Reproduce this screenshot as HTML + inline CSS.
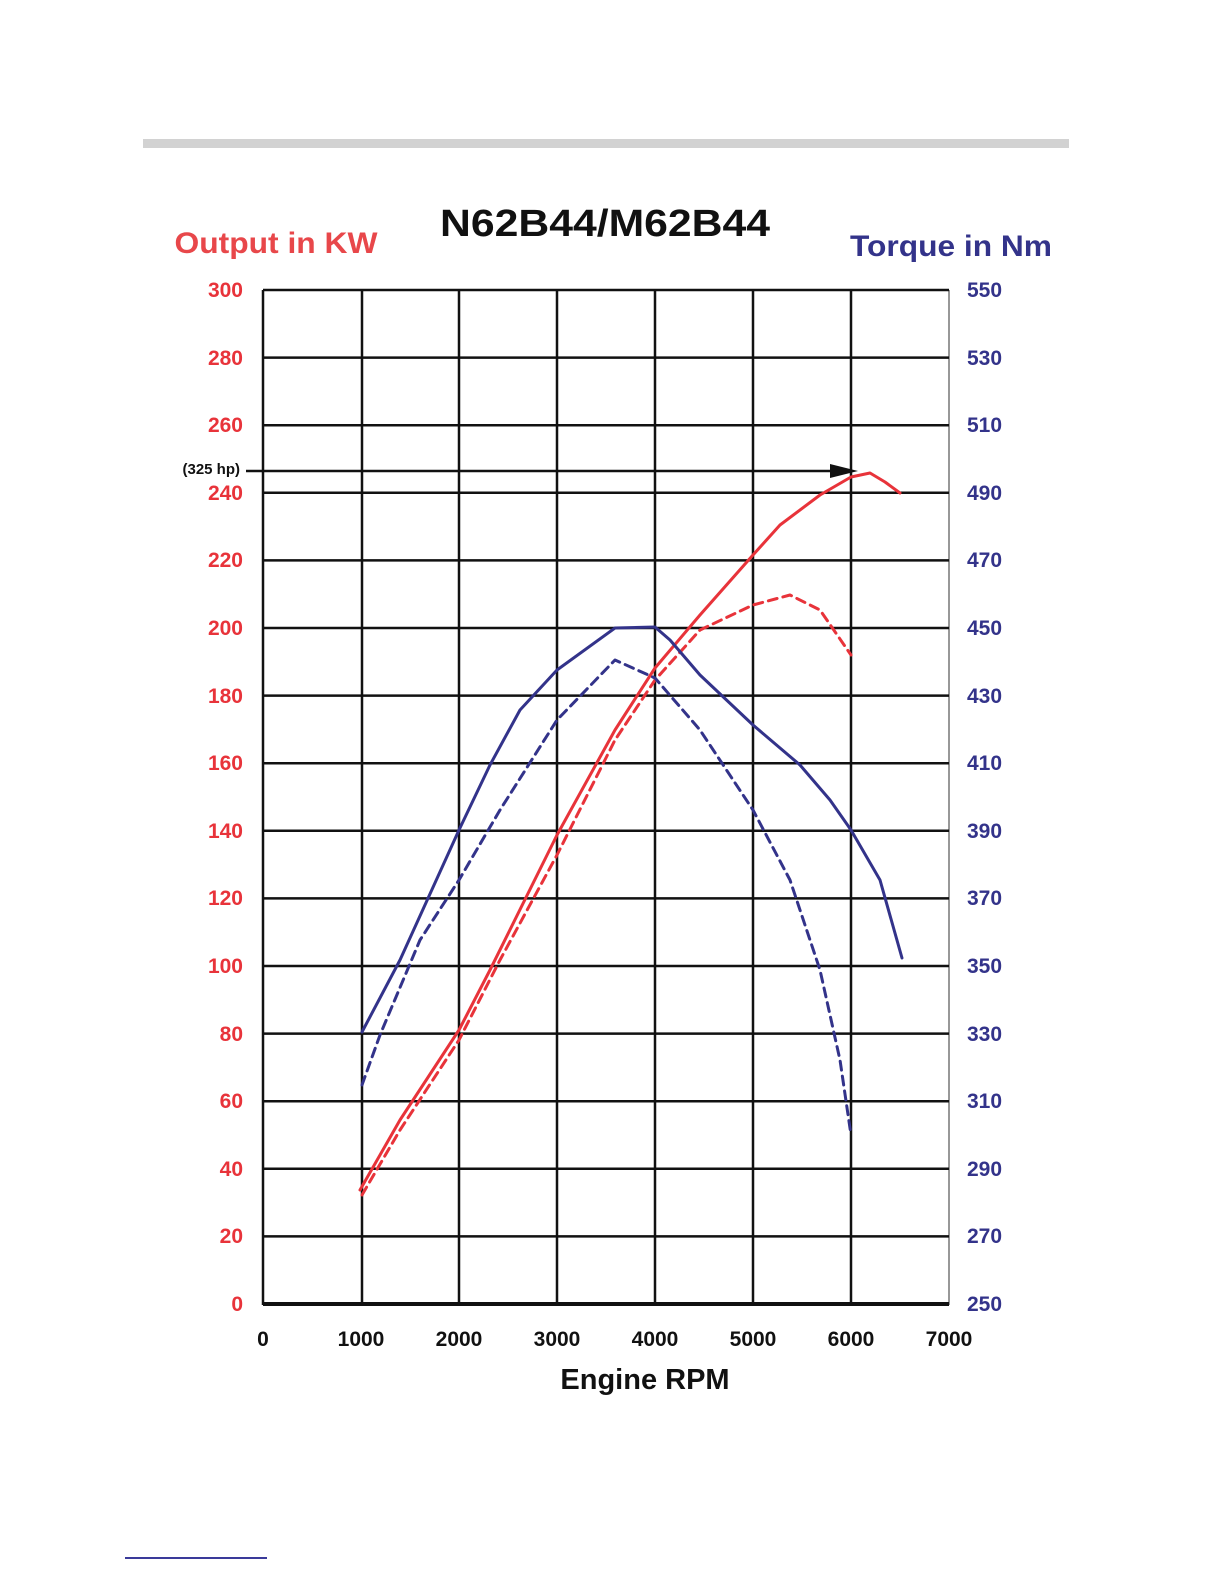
<!DOCTYPE html>
<html><head><style>
html,body{margin:0;padding:0;background:#fff;overflow:hidden;width:1224px;height:1584px;}
svg{display:block;}
text{font-family:"Liberation Sans",sans-serif;font-weight:bold;}
</style></head><body>
<svg width="1224" height="1584" viewBox="0 0 1224 1584">
<rect x="143" y="139" width="926" height="9" fill="#d2d2d2"/>
<line x1="125" y1="1558" x2="267" y2="1558" stroke="#3a3a9a" stroke-width="2"/>
<text x="605" y="236" font-size="38" text-anchor="middle" fill="#111" textLength="330" lengthAdjust="spacingAndGlyphs">N62B44/M62B44</text>
<text x="276" y="253" font-size="30" text-anchor="middle" fill="#e8474a" textLength="203" lengthAdjust="spacingAndGlyphs">Output in KW</text>
<text x="951" y="256" font-size="30" text-anchor="middle" fill="#33338a" textLength="202" lengthAdjust="spacingAndGlyphs">Torque in Nm</text>
<g stroke="#111" stroke-width="2.5">
<line x1="263" y1="290" x2="263" y2="1305"/>
<line x1="362" y1="290" x2="362" y2="1305"/>
<line x1="459" y1="290" x2="459" y2="1305"/>
<line x1="557" y1="290" x2="557" y2="1305"/>
<line x1="655" y1="290" x2="655" y2="1305"/>
<line x1="753" y1="290" x2="753" y2="1305"/>
<line x1="851" y1="290" x2="851" y2="1305"/>
<line x1="949" y1="290" x2="949" y2="1305" stroke="#777" stroke-width="1.5"/>
<line x1="263" y1="290" x2="949" y2="290"/>
<line x1="263" y1="357.6" x2="949" y2="357.6"/>
<line x1="263" y1="425.2" x2="949" y2="425.2"/>
<line x1="263" y1="492.8" x2="949" y2="492.8"/>
<line x1="263" y1="560.4" x2="949" y2="560.4"/>
<line x1="263" y1="628" x2="949" y2="628"/>
<line x1="263" y1="695.6" x2="949" y2="695.6"/>
<line x1="263" y1="763.2" x2="949" y2="763.2"/>
<line x1="263" y1="830.8" x2="949" y2="830.8"/>
<line x1="263" y1="898.4" x2="949" y2="898.4"/>
<line x1="263" y1="966" x2="949" y2="966"/>
<line x1="263" y1="1033.6" x2="949" y2="1033.6"/>
<line x1="263" y1="1101.2" x2="949" y2="1101.2"/>
<line x1="263" y1="1168.8" x2="949" y2="1168.8"/>
<line x1="263" y1="1236.4" x2="949" y2="1236.4"/>
<line x1="263" y1="1304" x2="949" y2="1304" stroke-width="4"/>
<line x1="246" y1="471" x2="840" y2="471"/>
</g>
<polygon points="830,464 858,471 830,478" fill="#111"/>
<text x="240" y="474" font-size="15" text-anchor="end" font-weight="normal" fill="#111">(325 hp)</text>
<g font-size="21" fill="#e8333a" text-anchor="end">
<text x="243" y="297">300</text><text x="243" y="365">280</text><text x="243" y="432">260</text>
<text x="243" y="500">240</text><text x="243" y="567">220</text><text x="243" y="635">200</text>
<text x="243" y="703">180</text><text x="243" y="770">160</text><text x="243" y="838">140</text>
<text x="243" y="905">120</text><text x="243" y="973">100</text><text x="243" y="1041">80</text>
<text x="243" y="1108">60</text><text x="243" y="1176">40</text><text x="243" y="1243">20</text>
<text x="243" y="1311">0</text>
</g>
<g font-size="21" fill="#33338a">
<text x="967" y="297">550</text><text x="967" y="365">530</text><text x="967" y="432">510</text>
<text x="967" y="500">490</text><text x="967" y="567">470</text><text x="967" y="635">450</text>
<text x="967" y="703">430</text><text x="967" y="770">410</text><text x="967" y="838">390</text>
<text x="967" y="905">370</text><text x="967" y="973">350</text><text x="967" y="1041">330</text>
<text x="967" y="1108">310</text><text x="967" y="1176">290</text><text x="967" y="1243">270</text>
<text x="967" y="1311">250</text>
</g>
<g font-size="21" fill="#111" text-anchor="middle">
<text x="263" y="1346">0</text><text x="361" y="1346">1000</text><text x="459" y="1346">2000</text>
<text x="557" y="1346">3000</text><text x="655" y="1346">4000</text><text x="753" y="1346">5000</text>
<text x="851" y="1346">6000</text><text x="949" y="1346">7000</text>
</g>
<text x="645" y="1389" font-size="29" text-anchor="middle" fill="#111">Engine RPM</text>
<g fill="none" stroke-width="3" stroke-linejoin="round" stroke-linecap="round">
<polyline stroke="#e8333a" points="360,1190 400,1120 459,1030 490,970 557,835 615,730 655,668 700,615 753,555 780,525 820,495 851,477 870,473 885,482 900,493"/>
<polyline stroke="#e8333a" stroke-dasharray="9,6" points="362,1195 400,1130 459,1040 500,960 557,855 615,740 655,680 700,630 753,605 790,595 820,610 851,655"/>
<polyline stroke="#33338a" points="362,1032 400,960 459,830 490,765 520,710 557,670 615,628 655,627 670,640 700,675 753,725 800,765 830,800 851,830 880,880 902,958"/>
<polyline stroke="#33338a" stroke-dasharray="9,6" points="362,1085 380,1035 420,940 459,880 500,810 557,720 615,660 655,678 700,730 753,810 790,880 820,970 840,1060 851,1135"/>
</g>
</svg>
</body></html>
